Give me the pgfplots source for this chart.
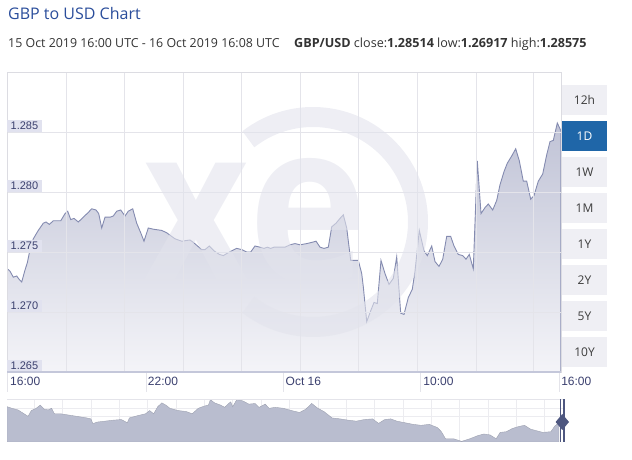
\documentclass[border=0pt]{standalone}
\usepackage{pgfplots}
\pgfplotsset{compat=1.18}
\usepackage{fontspec}
\setmainfont{Open Sans}
\newfontfamily\arialf{Liberation Sans}
\definecolor{titleblue}{RGB}{42,77,155}
\definecolor{subgray}{RGB}{51,51,51}
\definecolor{linecol}{RGB}{132,139,176}
\definecolor{filltop}{RGB}{192,195,214}
\definecolor{fillbot}{RGB}{244,244,248}
\definecolor{gridc}{RGB}{228,228,234}
\definecolor{borderc}{RGB}{220,220,226}
\definecolor{axisc}{RGB}{196,199,218}
\definecolor{ylabbg}{RGB}{225,226,239}
\definecolor{tickc}{RGB}{58,63,110}
\definecolor{btnbg}{RGB}{239,239,244}
\definecolor{btnact}{RGB}{31,102,168}
\definecolor{btntxt}{RGB}{60,60,60}
\definecolor{navfill}{RGB}{185,189,207}
\definecolor{handlec}{RGB}{78,87,128}
\definecolor{wmc}{RGB}{226,227,236}
\begin{document}
\begin{tikzpicture}
\useasboundingbox (0pt,0pt) rectangle (632pt,460pt);
% title and subtitle
\node[anchor=base west, inner sep=0, text=titleblue, font=\fontsize{16}{18}\selectfont] at (8pt,440pt) {GBP to USD Chart};
\node[anchor=base west, inner sep=0, text=subgray, font=\fontsize{12.4}{14}\selectfont] at (8pt,412pt) {15 Oct 2019 16:00 UTC - 16 Oct 2019 16:08 UTC};
\node[anchor=base west, inner sep=0, text=subgray, font=\fontsize{12.6}{14}\selectfont] at (294pt,412pt) {\textbf{GBP/USD} close:\textbf{1.28514} low:\textbf{1.26917} high:\textbf{1.28575}};

% main chart
\begin{axis}[
  at={(7pt,88pt)}, anchor=south west,
  width=554pt, height=300pt, scale only axis,
  xmin=-0.044, xmax=24.085, ymin=1.265, ymax=1.290,
  ytick={1.265,1.270,1.275,1.280,1.285},
  /pgf/number format/assume math mode=true,
  yticklabel style={/pgf/number format/fixed, /pgf/number format/fixed zerofill, /pgf/number format/precision=3,
    anchor=south west, fill=ylabbg, text=tickc, inner xsep=3.5pt, inner ysep=2pt,
    font=\arialf\fontsize{11}{11}\selectfont},
  ytick style={draw=none},
  xtick={0,6,12,18,24},
  xticklabels={16:00,22:00,Oct 16,10:00,16:00},
  xticklabel style={anchor=north west, inner sep=0pt, xshift=2pt, yshift=-5pt, text=tickc,
    font=\arialf\fontsize{12}{12}\selectfont},
  xtick style={draw=none},
  minor xtick={2.526,5.052,7.622,10.148,12.718,15.244,17.813,20.383,22.865},
  minor tick style={draw=none},
  minor tick length=0pt,
  xminorgrids, ymajorgrids,
  major grid style={draw=gridc, line width=0.9pt},
  minor grid style={draw=gridc, line width=0.9pt},
  axis line style={draw=borderc, line width=0.9pt},
  axis on top,
]
\addplot[draw=linecol, line width=0.9pt, top color=filltop, bottom color=fillbot] coordinates {
(-0.03,1.2736) (0.087,1.2734) (0.231,1.2729) (0.379,1.2730) (0.492,1.2727) (0.597,1.2725)
(0.740,1.2735) (0.841,1.2741) (0.958,1.2752) (1.102,1.2761) (1.320,1.2768) (1.537,1.2774)
(1.655,1.2775) (1.799,1.2773) (1.973,1.2776) (2.121,1.2776) (2.295,1.2776) (2.483,1.2782)
(2.600,1.2784) (2.731,1.2777) (2.875,1.2778) (3.062,1.2775) (3.280,1.2779) (3.497,1.2783)
(3.645,1.2786) (3.833,1.2785) (3.950,1.2782) (4.081,1.2770) (4.225,1.2779) (4.443,1.2779)
(4.586,1.2780) (4.734,1.2784) (4.908,1.2785) (5.096,1.2780) (5.240,1.2784) (5.431,1.2786)
(5.605,1.2774) (5.780,1.2766) (5.923,1.2759) (6.110,1.2770) (6.328,1.2769) (6.694,1.2768)
(6.912,1.2766) (7.273,1.2761) (7.565,1.2759) (7.927,1.2760) (8.071,1.2758) (8.437,1.2752)
(8.580,1.2752) (8.767,1.2755) (8.972,1.2751) (9.203,1.2748) (9.377,1.2747) (9.551,1.2749)
(9.743,1.2751) (9.960,1.2753) (10.178,1.2752) (10.396,1.2750) (10.570,1.2750) (10.758,1.2755)
(10.976,1.2754) (11.150,1.2753) (11.293,1.2754) (11.441,1.2753) (11.585,1.2754) (11.847,1.2754)
(12.064,1.2754) (12.282,1.2756) (12.500,1.2757) (12.718,1.2756) (13.009,1.2757) (13.227,1.2758)
(13.415,1.2759) (13.589,1.2754) (13.763,1.2753) (13.950,1.2754) (14.098,1.2771) (14.286,1.2774)
(14.460,1.2778) (14.604,1.2781) (14.752,1.2770) (14.926,1.2743) (15.113,1.2743) (15.257,1.2743)
(15.405,1.2732) (15.475,1.2721) (15.623,1.2692) (15.797,1.2701) (15.941,1.2708) (16.084,1.2707)
(16.245,1.2743) (16.420,1.2732) (16.594,1.2723) (16.781,1.2728) (16.929,1.2746) (17.103,1.2699)
(17.247,1.2698) (17.434,1.2712) (17.609,1.2719) (17.726,1.2734) (17.913,1.2768) (18.118,1.2751)
(18.262,1.2747) (18.454,1.2755) (18.597,1.2742) (18.772,1.2738) (18.933,1.2744) (19.107,1.2763)
(19.281,1.2763) (19.425,1.2755) (19.612,1.2748) (19.804,1.2747) (19.948,1.2744) (20.091,1.2748)
(20.265,1.2736) (20.439,1.2826) (20.601,1.2782) (20.775,1.2787) (20.919,1.2790) (21.110,1.2785)
(21.285,1.2793) (21.428,1.2806) (21.603,1.2817) (21.746,1.2824) (21.938,1.2830) (22.112,1.2836)
(22.269,1.2826) (22.443,1.2809) (22.591,1.2809) (22.765,1.2794) (22.909,1.2797) (23.096,1.2809)
(23.288,1.2815) (23.462,1.2831) (23.606,1.2842) (23.750,1.2843) (23.924,1.28575) (24.011,1.2854)
(24.072,1.28514)
} \closedcycle;
\end{axis}

% bottom axis line and label separators
\draw[draw=axisc, line width=1.6pt] (7pt,88pt) -- (561pt,88pt);
\foreach \sx in {7,146,283,420,559} {
  \draw[draw=gridc, line width=0.8pt] (\sx pt,87pt) -- (\sx pt,68pt);
}

% watermark
\begin{scope}[opacity=0.6, x=1pt, y=1pt]
\draw[draw=wmc, line width=20pt] (313,238) ++(128:105) arc[start angle=128, end angle=-128, radius=105];
\node[text=wmc, inner sep=0, xscale=0.85, font=\fontsize{215}{215}\selectfont\bfseries] at (196,238) {x};
\node[text=wmc, inner sep=0, xscale=0.9, font=\fontsize{225}{225}\selectfont\bfseries] at (308,238) {e};
\end{scope}

% range buttons
\begin{scope}[x=1pt, y=1pt]
\foreach \lab [count=\i from 0] in {12h,1D,1W,1M,1Y,2Y,5Y,10Y} {
  \pgfmathsetmacro{\btop}{375-36*\i}
  \pgfmathsetmacro{\bbot}{\btop-30.5}
  \pgfmathsetmacro{\bmid}{\btop-15.25}
  \ifnum\i=1
    \fill[btnact] (562,\bbot) rectangle (607,\btop);
    \node[text=white, font=\fontsize{12}{12}\selectfont] at (584.5,\bmid) {\lab};
  \else
    \fill[btnbg] (562,\bbot) rectangle (607,\btop);
    \node[text=btntxt, font=\fontsize{12}{12}\selectfont] at (584.5,\bmid) {\lab};
  \fi
}
\end{scope}

% navigator
\begin{axis}[
  at={(7pt,18pt)}, anchor=south west,
  width=556pt, height=43pt, scale only axis,
  xmin=18, xmax=1390, ymin=0, ymax=134,
  xtick={85,155,225,295,365,435,505,575,645,715,785,855,925,995,1065,1135,1205,1275,1345},
  ytick={80,105},
  xticklabels={}, yticklabels={},
  tick style={draw=none},
  grid=major, major grid style={draw=gridc!70, line width=0.6pt},
  axis line style={draw=none},
]
\addplot[draw=navfill!85!black, line width=0.4pt, fill=navfill] coordinates {
(18,110) (30,105) (45,100) (60,88) (70,80) (78,98) (90,105) (100,115) (110,102) (120,100)
(128,105) (135,88) (150,88) (165,85) (180,82) (200,78) (215,75) (225,72) (230,57) (240,62)
(260,65) (280,68) (300,70) (315,60) (320,75) (340,82) (360,88) (370,98) (380,88) (390,110)
(400,122) (410,115) (420,105) (440,98) (460,95) (475,88) (490,105) (505,112) (515,115) (520,132)
(530,122) (545,115) (555,108) (565,120) (570,125) (575,110) (585,132) (600,128) (615,118) (630,120)
(640,108) (655,118) (665,105) (680,108) (700,105) (720,98) (740,92) (755,102) (770,120) (785,105)
(800,95) (820,75) (840,72) (860,68) (880,65) (900,70) (920,72) (935,58) (950,70) (965,72)
(980,65) (1000,60) (1020,55) (1040,52) (1060,55) (1080,45) (1090,32) (1100,10) (1120,10) (1140,2)
(1160,10) (1180,20) (1195,25) (1210,22) (1225,10) (1235,30) (1250,32) (1265,42) (1280,48) (1295,52)
(1310,40) (1325,35) (1340,30) (1360,32) (1370,50) (1380,60)
} \closedcycle;
\end{axis}

\draw[draw=gridc, line width=0.6pt] (7pt,61pt) -- (563pt,61pt);
\draw[handlec, line width=1.4pt] (560.7pt,18pt) -- (560.7pt,61pt);
\draw[handlec, line width=1.4pt] (564pt,18pt) -- (564pt,61pt);
\fill[handlec] (562.3pt,46pt) -- (569pt,38pt) -- (562.3pt,30pt) -- (555.6pt,38pt) -- cycle;
\end{tikzpicture}
\end{document}
